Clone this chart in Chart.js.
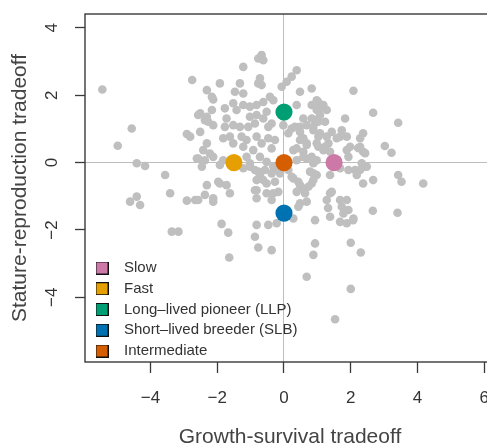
<!DOCTYPE html>
<html>
<head>
<meta charset="utf-8">
<script src="https://cdn.jsdelivr.net/npm/chart.js@4"></script>
<style>
html,body{margin:0;padding:0;background:#fff;overflow:hidden;width:487px;height:444px;}
canvas{display:block;}
</style>
</head>
<body>
<canvas id="c" width="510" height="460"></canvas>
<script>
// ---- data ----
const xTickVals = [-4, -2, 0, 2, 4, 6];
const xTickLabels = ['\u22124', '\u22122', '0', '2', '4', '6'];
const yTickVals = [-4, -2, 0, 2, 4];
const yTickLabels = ['\u22124', '\u22122', '0', '2', '4'];

const xTitle = 'Growth-survival tradeoff';
const yTitle = 'Stature-reproduction tradeoff';

// other species (grey points)
const speciesX = [
-5.44,-4.56,-4.98,-4.41,-4.16,-3.56,-3.41,-4.61,-4.41,-4.31,-3.36,-3.16,-2.91,-2.66,-2.75,-2.31,-2.51,-2.91,-2.81,-2.51,
-2.37,-2.42,-2.61,-2.46,-2.31,-2.37,-0.67,-0.77,-0.62,-1.22,0.38,0.23,0.08,-0.07,-1.92,-2.12,-1.22,-0.72,-0.77,-0.67,
0.48,0.83,-0.42,-0.32,-0.62,-0.82,-1.02,-1.22,-1.52,-1.42,-1.77,-2.16,-2.31,-1.72,-1.77,-1.52,-1.32,-1.02,-0.82,-0.62,
-0.52,-1.07,-0.87,-0.47,-0.37,0.38,0.58,0.48,0.68,0.23,0.13,-0.02,0.83,-1.82,-1.62,-1.52,-1.27,-1.12,-1.22,-0.82,
-0.67,-0.92,-0.47,-0.27,-0.37,0.48,0.68,0.38,0.58,-2.31,-2.22,-2.37,-2.12,-1.82,-1.92,-1.12,-1.02,-0.72,-0.52,0.38,
0.68,0.88,2.08,1.03,1.18,1.28,0.98,1.08,0.93,1.23,1.83,2.67,3.42,0.88,1.03,0.98,1.43,1.73,1.58,1.88,
2.37,2.28,1.23,1.38,1.88,1.93,2.28,2.37,3.02,3.22,2.33,2.48,0.98,0.98,1.08,0.83,1.03,0.88,0.33,0.48,
0.58,0.68,1.08,1.28,1.33,1.03,1.18,1.68,1.98,0.28,0.58,0.83,2.22,2.43,-1.97,-1.72,-2.12,-1.62,-1.22,-1.02,
-0.77,-0.57,-0.37,-0.17,-0.82,-0.52,-0.27,-0.82,-0.52,-0.37,-0.17,-0.82,0.13,0.28,0.48,0.38,0.58,0.48,0.68,0.78,
0.88,0.98,0.28,0.93,-1.87,-1.67,-0.82,-0.87,-0.47,-0.22,-0.77,-0.37,-1.64,0.93,0.88,0.68,1.53,2.00,2.30,2.00,
1.68,1.88,2.07,0.88,0.83,1.38,1.68,1.93,2.28,2.43,2.37,2.67,3.42,3.52,4.17,1.43,1.28,1.68,1.88,1.73,
1.93,2.08,1.78,2.66,3.40,2.13,2.18,1.38,1.32,1.38,-0.87,-0.72,-0.62,-0.87,-0.32,0.23,0.43,0.63,0.73,0.43,
-0.32,-0.12,-2.57,-2.27,-2.12,-2.16,-1.47,-1.32,-2.57,-2.12,-1.92,-2.57
];
const speciesY = [
2.17,1.01,0.50,-0.02,-0.10,-0.37,-0.91,-1.16,-1.01,-1.26,-2.05,-2.05,-1.13,-1.11,2.45,2.15,1.46,0.85,0.77,0.91,
1.26,0.37,0.12,-0.12,-0.67,-0.96,3.19,3.09,3.04,2.84,2.74,2.55,2.40,2.25,2.35,1.87,2.05,2.50,2.35,2.30,
2.10,2.20,1.95,1.85,1.80,1.71,1.66,1.71,1.76,1.56,1.61,1.56,1.36,1.31,1.06,1.11,1.06,1.36,1.41,1.31,
1.51,1.06,1.16,1.06,1.16,1.71,1.31,1.06,1.11,1.01,0.87,1.11,1.71,0.72,0.77,0.57,0.77,0.67,0.47,0.77,
0.57,0.37,0.72,0.67,0.42,0.67,0.57,0.42,0.32,0.57,0.27,0.07,0.17,0.07,-0.07,0.17,-0.02,0.17,0.02,0.07,
0.12,-0.02,2.13,1.80,1.71,1.56,1.56,1.41,1.26,1.21,1.31,1.48,1.18,0.96,0.77,0.57,0.91,0.96,0.72,0.77,
0.87,0.72,0.47,0.32,0.37,0.17,0.47,0.32,0.49,0.29,-0.02,-0.12,0.07,1.85,1.61,1.31,1.21,1.06,1.06,0.91,
0.72,0.52,0.87,0.77,0.57,0.47,0.37,0.77,0.47,0.37,0.17,0.17,0.43,0.28,-0.57,-0.67,-1.16,-0.91,-0.17,-0.12,
-0.27,-0.22,-0.32,-0.22,-0.52,-0.62,-0.57,-0.82,-0.91,-1.11,-0.87,-1.06,-0.22,-0.47,-0.67,-0.87,-0.77,-1.21,-1.16,-0.27,
-0.52,-0.37,-1.66,-1.71,-1.82,-2.08,-1.85,-2.20,-1.85,-1.80,-2.52,-2.60,-2.82,-2.40,-2.74,-3.39,-4.65,-2.38,-2.67,-3.75,
-1.76,-1.80,-1.71,-0.32,-0.62,-0.37,-0.17,-0.22,-0.22,-0.12,-0.62,-0.52,-0.37,-0.57,-0.62,-0.87,-1.11,-1.11,-1.11,-1.31,
-1.41,-1.66,-1.51,-1.43,-1.49,-0.22,-0.37,-0.91,-1.35,-1.61,-0.22,-0.37,-0.52,-0.82,-0.91,-0.42,-0.57,-0.91,-0.72,-1.31,
-0.12,-0.32,1.41,1.21,1.11,1.95,2.10,2.35,-1.11,-1.06,-0.62,0.12
];

// strategy groups
const groupNames = ['Slow', 'Fast', 'Long\u2013lived pioneer (LLP)', 'Short\u2013lived breeder (SLB)', 'Intermediate'];
const groupX = [1.5, -1.5, 0, 0, 0];
const groupY = [0, 0, 1.5, -1.5, 0];

// ---- styles ----
const groupColors = ['#CC79A7', '#E69F00', '#009E73', '#0072B2', '#D55E00'];
const FONT = "'Liberation Sans', Arial, Helvetica, sans-serif";

function boxCanvas(color) {
  const c = document.createElement('canvas');
  c.width = 13; c.height = 13;
  const g = c.getContext('2d');
  g.fillStyle = color;
  g.fillRect(0.5, 0.5, 12, 12);
  g.strokeStyle = '#111';
  g.lineWidth = 1;
  g.strokeRect(0.5, 0.5, 12, 12);
  return c;
}
const legendBoxes = groupColors.map(boxCanvas);

const datasets = groupNames.map((name, i) => ({
  label: name,
  data: [{x: groupX[i], y: groupY[i]}],
  backgroundColor: groupColors[i],
  borderWidth: 0,
  pointRadius: 8.6,
  pointHoverRadius: 8.6,
  order: i
}));
datasets.push({
  label: 'Species',
  data: speciesX.map((x, i) => ({x: x, y: speciesY[i]})),
  backgroundColor: '#bfbfbf',
  borderWidth: 0,
  pointRadius: 4.3,
  pointHoverRadius: 4.3,
  order: 10
});

const boxPlugin = {
  id: 'plotBox',
  afterLayout(chart) {
    const lg = chart.legend;
    if (lg) {
      lg.left = 81.75; lg.top = 254.75;
      lg.right = chart.chartArea.right; lg.bottom = chart.chartArea.bottom + 60;
      lg.width = lg.right - lg.left; lg.height = lg.bottom - lg.top;
    }
  },
  afterDraw(chart) {
    const a = chart.chartArea, ctx = chart.ctx;
    ctx.save();
    ctx.strokeStyle = '#3a3a3a';
    ctx.lineWidth = 1.4;
    ctx.strokeRect(a.left, a.top, a.right - a.left, a.bottom - a.top);
    ctx.restore();
  }
};

function zeroFit(scale) {
  scale.paddingTop = 0; scale.paddingBottom = 0;
  scale.paddingLeft = 0; scale.paddingRight = 0;
}

new Chart(document.getElementById('c'), {
  type: 'scatter',
  data: {datasets: datasets},
  plugins: [boxPlugin],
  options: {
    responsive: false,
    animation: false,
    devicePixelRatio: 1,
    layout: {padding: {left: 0, top: 14, right: 15, bottom: 0}},
    plugins: {
      tooltip: {enabled: false},
      legend: {
        position: 'chartArea',
        align: 'start',
        labels: {
          usePointStyle: true,
          pointStyleWidth: 29,
          boxWidth: 13,
          boxHeight: 13,
          padding: 5.75,
          color: '#333',
          font: {family: FONT, size: 15},
          generateLabels: () => groupNames.map((n, i) => ({
            text: n, pointStyle: legendBoxes[i], fillStyle: groupColors[i],
            strokeStyle: '#111', lineWidth: 1, hidden: false, datasetIndex: i, fontColor: '#333'
          }))
        }
      }
    },
    scales: {
      x: {
        type: 'linear',
        min: -5.96, max: 6.32,
        afterBuildTicks: (s) => { s.ticks = xTickVals.map(v => ({value: v})); },
        afterFit: (s) => { s.height = 98; zeroFit(s); },
        border: {display: false},
        grid: {
          drawOnChartArea: true,
          color: (c) => (c.tick && c.tick.value === 0) ? '#bdbdbd' : 'rgba(0,0,0,0)',
          lineWidth: 1,
          drawTicks: true,
          tickLength: 11,
          tickColor: '#3a3a3a',
          tickWidth: 1.3
        },
        ticks: {
          padding: 15,
          color: '#333',
          font: {family: FONT, size: 17},
          maxRotation: 0, minRotation: 0,
          callback: (v) => xTickLabels[xTickVals.indexOf(v)]
        },
        title: {
          display: true, text: xTitle, color: '#444',
          font: {family: FONT, size: 21, lineHeight: 1.2},
          padding: {top: 0, bottom: 10.4}
        }
      },
      y: {
        type: 'linear',
        min: -5.92, max: 4.41,
        afterBuildTicks: (s) => { s.ticks = yTickVals.map(v => ({value: v})); },
        afterFit: (s) => { s.width = 85; zeroFit(s); },
        border: {display: false},
        grid: {
          drawOnChartArea: true,
          color: (c) => (c.tick && c.tick.value === 0) ? '#bdbdbd' : 'rgba(0,0,0,0)',
          lineWidth: 1,
          drawTicks: true,
          tickLength: 10,
          tickColor: '#3a3a3a',
          tickWidth: 1.3
        },
        ticks: {
          padding: 13,
          crossAlign: 'center',
          minRotation: 90, maxRotation: 90,
          color: '#333',
          font: {family: FONT, size: 17},
          callback: (v) => yTickLabels[yTickVals.indexOf(v)]
        },
        title: {
          display: true, text: yTitle, color: '#444',
          font: {family: FONT, size: 21, lineHeight: 1.2},
          padding: {top: 7.4, bottom: 0}
        }
      }
    }
  }
});
</script>
</body>
</html>
